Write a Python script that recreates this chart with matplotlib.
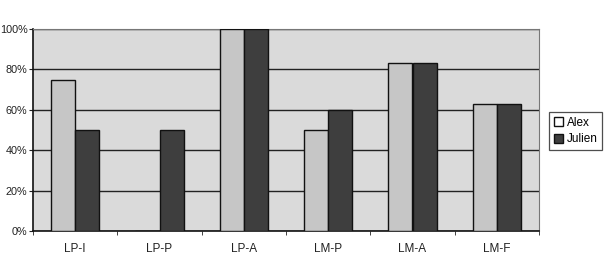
import matplotlib
matplotlib.use("Agg")
import matplotlib.pyplot as plt
import numpy as np
from matplotlib.patches import Patch

categories = ["LP-I", "LP-P", "LP-A", "LM-P", "LM-A", "LM-F"]
alex = [75, 0, 100, 50, 83, 63]
julien = [50, 50, 100, 60, 83, 63]
yticks = [0, 20, 40, 60, 80, 100]
ytick_labels = ["0%", "20%", "40%", "60%", "80%", "100%"]

plt.rcParams['font.family'] = ['Liberation Sans', 'DejaVu Sans']

fig = plt.figure(figsize=(6.12, 2.67), dpi=100)
ax = fig.add_axes([33/612, (267-231)/267, (539-33)/612, (231-29)/267])
ax.set_facecolor("#dadada")

x = np.arange(len(categories))
w = 0.285
ax.bar(x - w/2, alex, w, color="#c6c6c6", edgecolor="#111111", linewidth=1.0, zorder=3)
ax.bar(x + w/2, julien, w, color="#3e3e3e", edgecolor="#111111", linewidth=1.0, zorder=3)

ax.set_xlim(-0.5, len(categories) - 0.5)
ax.set_ylim(0, 100)
ax.set_yticks(yticks)
ax.set_yticklabels(ytick_labels, fontsize=7.8, color="#222222")
ax.yaxis.grid(True, color="#222222", linewidth=1.0, zorder=1)
ax.set_axisbelow(True)

ax.set_xticks(x)
ax.set_xticklabels(categories, fontsize=8.5, color="#222222")
ax.tick_params(axis='x', which='major', length=0, pad=9)
ax.set_xticks(np.arange(-0.5, len(categories)), minor=True)
ax.tick_params(axis='x', which='minor', length=3, direction='out', color="#222222")
ax.tick_params(axis='y', length=3, direction='out', color="#222222", pad=1)

for s in ["left", "bottom"]:
    ax.spines[s].set_color("#111111")
    ax.spines[s].set_linewidth(1.2)
for s in ["top", "right"]:
    ax.spines[s].set_color("#777777")
    ax.spines[s].set_linewidth(0.8)

handles = [Patch(facecolor="white", edgecolor="#111111", label="Alex"),
           Patch(facecolor="#3e3e3e", edgecolor="#111111", label="Julien")]
leg = fig.legend(handles=handles, loc="upper left", bbox_to_anchor=(549/612, 1 - 112/267),
                 fontsize=8.5, frameon=True, fancybox=False, handlelength=0.8, handleheight=0.8,
                 handletextpad=0.3, borderpad=0.4, labelspacing=0.4, borderaxespad=0)
leg.get_frame().set_edgecolor("#222222")
leg.get_frame().set_linewidth(0.9)

fig.savefig("out.png", dpi=100)
